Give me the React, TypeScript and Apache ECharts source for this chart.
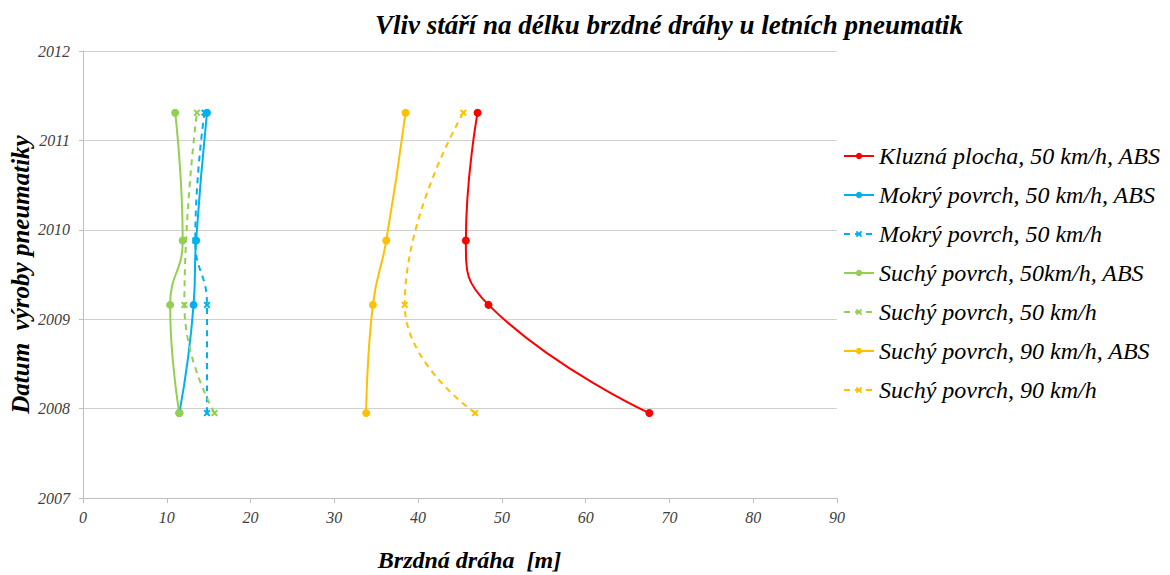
import React, { useEffect, useRef } from "react";
import * as echarts from "echarts";

const years = [2007.95, 2009.16, 2009.88, 2011.31];
const yearsNoMid = [2007.95, 2009.16, 2011.31];

const kluznaAbs = [67.6, 48.4, 45.7, 47.1];
const mokryAbs = [11.5, 13.2, 13.5, 14.8];
const mokry = [14.8, 14.8, 13.4, 14.5];
const suchy50Abs = [11.5, 10.4, 11.9, 11.0];
const suchy50 = [15.7, 12.1, 13.6];
const suchy90Abs = [33.8, 34.6, 36.2, 38.5];
const suchy90 = [46.8, 38.4, 45.4];

const names = [
  "Kluzná plocha, 50 km/h, ABS",
  "Mokrý povrch, 50 km/h, ABS",
  "Mokrý povrch, 50 km/h",
  "Suchý povrch, 50km/h, ABS",
  "Suchý povrch, 50 km/h",
  "Suchý povrch, 90 km/h, ABS",
  "Suchý povrch, 90 km/h",
];

const RED = "#FF0000";
const BLUE = "#00B0F0";
const GREEN = "#92D050";
const ORANGE = "#FFC000";

const CROSS =
  "path://M2,0 L5,3 L8,0 L10,2 L7,5 L10,8 L8,10 L5,7 L2,10 L0,8 L3,5 L0,2 Z";

const FONT = "'Liberation Serif', 'Times New Roman', serif";

function pairs(xs: number[], ys: number[]) {
  return xs.map((x, i) => [x, ys[i]]);
}

function mk(name: string, data: number[][], color: string, dashed: boolean) {
  return {
    name,
    type: "line",
    data,
    smooth: 0.5,
    symbol: dashed ? CROSS : "circle",
    symbolSize: dashed ? 7 : 8,
    itemStyle: { color },
    lineStyle: { color, width: 2, type: dashed ? [6, 5] : "solid" },
    z: 3,
  };
}

export default function App() {
  const ref = useRef<HTMLDivElement>(null);
  useEffect(() => {
    if (!ref.current) return;
    const chart = echarts.init(ref.current, undefined, { renderer: "svg" });
    chart.setOption({
      animation: false,
      backgroundColor: "#ffffff",
      title: {
        text: "Vliv stáří na délku brzdné dráhy u letních pneumatik",
        left: 664,
        top: 6,
        textAlign: "center",
        textStyle: {
          fontFamily: FONT,
          fontStyle: "italic",
          fontWeight: "bold",
          fontSize: 27,
          color: "#000",
        },
      },
      grid: {
        left: 83,
        right: 333,
        top: 51,
        bottom: 77,
        containLabel: false,
        outerBoundsMode: "none",
      },
      legend: {
        orient: "vertical",
        left: 843,
        top: 144,
        padding: 0,
        itemWidth: 30,
        itemHeight: 8,
        itemGap: 15,
        textStyle: {
          fontFamily: FONT,
          fontStyle: "italic",
          fontSize: 24,
          color: "#000",
        },
        data: names,
      },
      xAxis: {
        type: "value",
        min: 0,
        max: 90,
        interval: 10,
        name: "Brzdná dráha  [m]",
        nameLocation: "middle",
        nameGap: 50,
        nameTextStyle: {
          fontFamily: FONT,
          fontStyle: "italic",
          fontWeight: "bold",
          fontSize: 24,
          color: "#000",
          padding: [0, 0, 0, 19],
        },
        axisLine: { show: true, lineStyle: { color: "#BFBFBF" } },
        axisTick: { show: true, length: 5, lineStyle: { color: "#BFBFBF" } },
        splitLine: { show: false },
        axisLabel: {
          fontFamily: FONT,
          fontStyle: "italic",
          fontSize: 16,
          color: "#404040",
          margin: 11,
        },
      },
      yAxis: {
        type: "value",
        min: 2007,
        max: 2012,
        interval: 1,
        name: "Datum  výroby pneumatiky",
        nameLocation: "middle",
        nameGap: 50,
        nameMoveOverlap: false,
        nameTextStyle: {
          fontFamily: FONT,
          fontStyle: "italic",
          fontWeight: "bold",
          fontSize: 25,
          color: "#000",
        },
        axisLine: { show: true, lineStyle: { color: "#BFBFBF" } },
        axisTick: { show: true, length: 4, lineStyle: { color: "#BFBFBF" } },
        splitLine: { show: true, lineStyle: { color: "#D0D0D0", width: 1 } },
        axisLabel: {
          fontFamily: FONT,
          fontStyle: "italic",
          fontSize: 16,
          color: "#404040",
          margin: 13,
          formatter: (v: number) => String(v),
        },
      },
      series: [
        mk(names[0], pairs(kluznaAbs, years), RED, false),
        mk(names[1], pairs(mokryAbs, years), BLUE, false),
        mk(names[2], pairs(mokry, years), BLUE, true),
        mk(names[3], pairs(suchy50Abs, years), GREEN, false),
        mk(names[4], pairs(suchy50, yearsNoMid), GREEN, true),
        mk(names[5], pairs(suchy90Abs, years), ORANGE, false),
        mk(names[6], pairs(suchy90, yearsNoMid), ORANGE, true),
      ],
    });
    return () => chart.dispose();
  }, []);
  return (
    <div
      ref={ref}
      style={{ position: "fixed", left: 0, top: 0, width: 1170, height: 575 }}
    />
  );
}
